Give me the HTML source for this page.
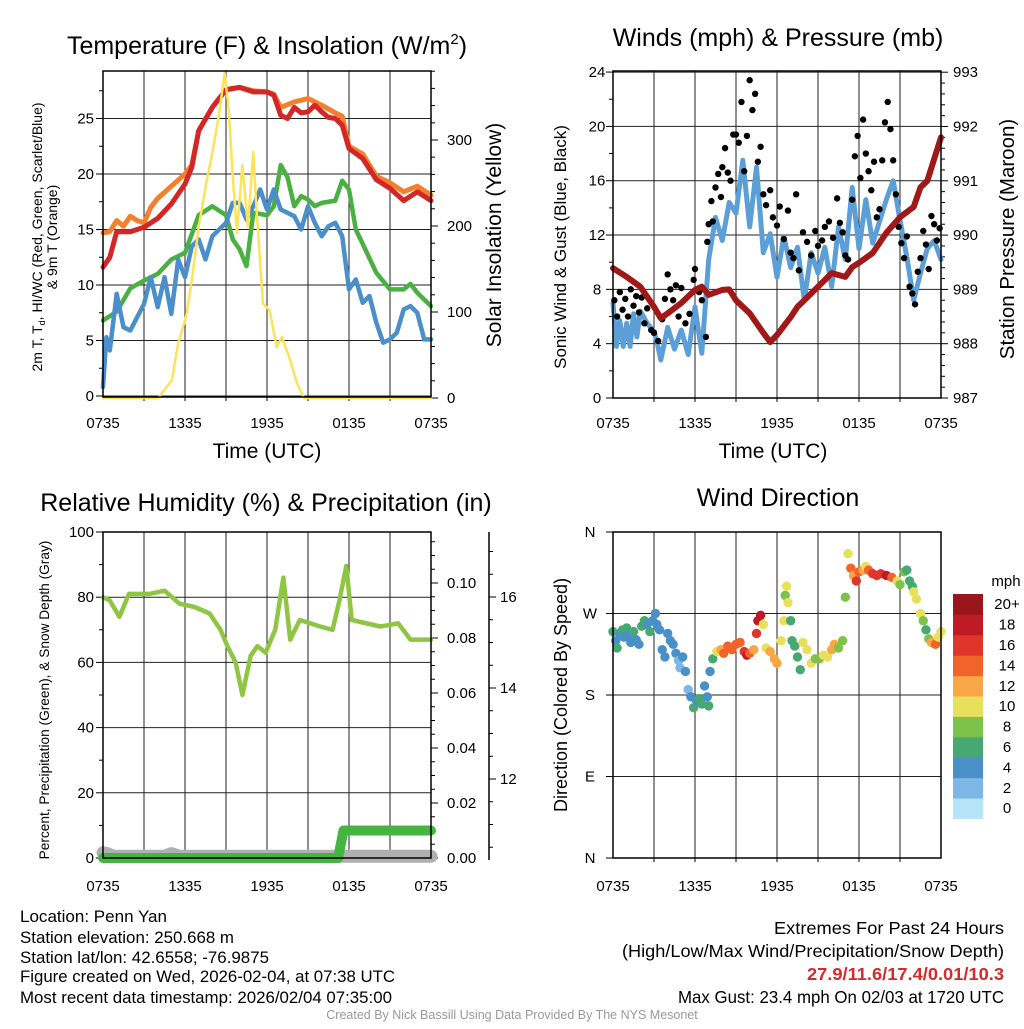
<!DOCTYPE html>
<html><head><meta charset="utf-8"><style>
body{margin:0;background:#fff}
svg text{font-family:"Liberation Sans",Arial,sans-serif;fill:#000}
</style></head><body>
<svg id="chart" width="1024" height="1024" viewBox="0 0 1024 1024" xmlns="http://www.w3.org/2000/svg">
<g id="layer"></g>
<text x="267" y="54" font-size="25" text-anchor="middle">Temperature (F) &amp; Insolation (W/m<tspan font-size="15" dy="-10">2</tspan><tspan dy="10">)</tspan></text>
<text x="778" y="46" font-size="25" text-anchor="middle">Winds (mph) &amp; Pressure (mb)</text>
<text x="266" y="511" font-size="25" text-anchor="middle">Relative Humidity (%) &amp; Precipitation (in)</text>
<text x="778" y="506" font-size="25" text-anchor="middle">Wind Direction</text>
<text x="267" y="458" font-size="21" text-anchor="middle">Time (UTC)</text>
<text x="773" y="458" font-size="21" text-anchor="middle">Time (UTC)</text>
<text transform="translate(42,237) rotate(-90)" font-size="14" text-anchor="middle">2m T, T<tspan font-size="9" dy="3">d</tspan><tspan dy="-3">, HI/WC (Red, Green, Scarlet/Blue)</tspan></text>
<text transform="translate(57,237) rotate(-90)" font-size="14" text-anchor="middle">&amp; 9m T (Orange)</text>
<text transform="translate(501,235) rotate(-90)" font-size="21" text-anchor="middle">Solar Insolation (Yellow)</text>
<text transform="translate(566,247) rotate(-90)" font-size="17" text-anchor="middle">Sonic Wind &amp; Gust (Blue, Black)</text>
<text transform="translate(1014,239) rotate(-90)" font-size="20.5" text-anchor="middle">Station Pressure (Maroon)</text>
<text transform="translate(49,700) rotate(-90)" font-size="13.7" text-anchor="middle">Percent, Precipitation (Green), &amp; Snow Depth (Gray)</text>
<text transform="translate(567,695) rotate(-90)" font-size="18" text-anchor="middle">Direction (Colored By Speed)</text>
<g font-size="16.5">
<text x="20" y="922" textLength="147" lengthAdjust="spacingAndGlyphs">Location: Penn Yan</text>
<text x="20" y="943" textLength="214" lengthAdjust="spacingAndGlyphs">Station elevation: 250.668 m</text>
<text x="20" y="963" textLength="249" lengthAdjust="spacingAndGlyphs">Station lat/lon: 42.6558; -76.9875</text>
<text x="20" y="982" textLength="375" lengthAdjust="spacingAndGlyphs">Figure created on Wed, 2026-02-04, at 07:38 UTC</text>
<text x="20" y="1003" textLength="372" lengthAdjust="spacingAndGlyphs">Most recent data timestamp: 2026/02/04 07:35:00</text>
</g>
<g font-size="17.5" text-anchor="end">
<text x="1004" y="934" textLength="230" lengthAdjust="spacingAndGlyphs">Extremes For Past 24 Hours</text>
<text x="1004" y="957" textLength="382" lengthAdjust="spacingAndGlyphs">(High/Low/Max Wind/Precipitation/Snow Depth)</text>
<text x="1004" y="980" font-weight="bold" style="fill:#d42a2a" textLength="197" lengthAdjust="spacingAndGlyphs">27.9/11.6/17.4/0.01/10.3</text>
<text x="1004" y="1003" textLength="326" lengthAdjust="spacingAndGlyphs">Max Gust: 23.4 mph On 02/03 at 1720 UTC</text>
</g>
<text x="512" y="1019" font-size="12.5" text-anchor="middle" style="fill:#999">Created By Nick Bassill Using Data Provided By The NYS Mesonet</text>
</svg>
<script>
// ---- data ----
const xTickLabels = ["0735","1335","1935","0135","0735"];
const redT = [0,0.5,1,2,3,4,5,6,6.5,7,8,9,10,11,12,12.5,13,13.5,14,14.5,15,15.5,16,16.5,17,17.5,18,19,20,21,22,23,24];
const redV = [11.6,12.5,14.8,14.8,15.2,16,17.3,19.1,20.6,23.9,26,27.6,27.8,27.4,27.4,27.1,25.3,25,26,25.5,25.6,26.2,25.6,25.1,25,24.4,22.3,21.4,19.5,18.7,17.6,18.4,17.6];
const orangeT = [0,0.5,1,1.5,2,2.5,3,3.5,4,5,6,6.5,7,8,9,10,11,12,12.5,13,14,15,16,17,17.5,18,19,20,21,22,23,24];
const orangeV = [14.7,14.8,15.8,15.3,16.2,15.8,15.6,17,17.8,18.9,20,20.8,23.9,26,27.6,27.8,27.5,27.4,27.2,26,26.5,26.8,26.2,25.5,25.2,22.5,21.8,19.8,19.2,18.4,18.9,18.1];
const greenT = [0,1,2,3,4,5,5.5,6,7,8,9,9.5,10,10.5,11,12,12.5,13,13.5,14,14.5,15,15.5,16,17,17.5,18,18.5,19,20,21,22,22.5,23,24];
const greenV = [6.8,7.6,9.7,10.4,11,12.3,12.6,12.9,16.3,17.1,16.3,14.1,13.2,11.7,16.5,16.3,17.1,20.8,19.7,17.1,18,17.7,17.1,17.4,17.6,19.4,18.6,15,13.7,11.1,9.6,9.6,10.1,9.3,8.1];
const blueT = [0,0.25,0.5,1,1.5,2,3,3.5,4,4.5,5,5.5,6,6.5,7,7.5,8,9,9.5,10,10.5,11,11.5,12,12.5,13,14,14.5,15,15.5,16,16.5,17,17.5,18,18.5,19,19.5,20,20.5,21,21.5,22,22.5,23,23.5,24];
const blueV = [0.8,5.3,4.1,9.2,6.2,5.9,8.3,10.7,8,10.7,7.4,12.3,10.7,13.5,14.1,12.3,14.4,15.6,17.4,17.4,15.9,17.1,18.6,16.8,18.6,16.8,16.2,15,17.1,15.6,14.4,15.3,15.6,14.4,9.6,10.5,8.4,9,6.6,4.8,5.1,5.7,7.8,8.1,7.5,5.1,5.1];
const insT = [0,4.05,5.05,5.5,6.07,6.5,7,7.5,8,8.5,8.9,9.2,9.5,9.8,10.2,10.6,11.0,11.2,11.7,12.2,12.7,13.1,13.7,14.2,14.7,24];
const insV = [0,0,21,64,94,137,199,245,285,331,378,335,257,192,271,199,286,227,110,102,59,71,44,17,0,0];
const presT = [0,1,2,3,3.5,4,5,6,6.5,7,8,8.5,9,10,11,11.5,12,13,13.5,14,15,16,17,17.5,18,19,20,21,22,22.5,23,24];
const presV = [989.39,989.23,989.05,988.68,988.47,988.56,988.75,988.99,989.05,988.9,988.99,989.0,988.8,988.56,988.2,988.03,988.16,988.49,988.68,988.8,989.05,989.3,989.23,989.41,989.49,989.67,990.04,990.33,990.52,990.88,991.0,991.8];
const windT = [0,0.25,0.5,0.75,1,1.25,1.5,1.75,2,2.5,3,3.25,3.5,4,4.5,5,5.5,6,6.5,7,7.5,8,8.5,9,9.5,10,10.5,11,11.5,12,12.5,13,13.5,14,14.5,15,15.5,16,16.5,17,17.5,18,18.5,19,19.5,20,20.5,21,21.5,22,22.5,23,23.5,24];
const windV = [7,3.8,5.7,3.8,5.5,3.8,6.2,4.5,6.4,5.5,4.9,4,2.8,5.2,3.6,5,3.2,6.7,3.3,10.2,13.3,11.6,14.4,13.6,17.5,12.6,17,10.7,12.1,8.9,11.9,9.6,11.1,7.2,10.7,9.2,11.1,8.2,12.6,10.2,15.5,11,14.6,11.4,13,14.6,16,13.1,10.4,7.2,9.2,11,11.6,10.2];
const gustT = [0.1,0.3,0.5,0.7,0.9,1.1,1.3,1.5,1.7,1.9,2.1,2.3,2.5,2.8,3.0,3.3,3.6,3.8,4,4.2,4.4,4.6,4.8,5,5.3,5.6,5.9,6,6.3,6.5,6.8,6.9,7.0,7.2,7.3,7.5,7.7,7.9,8.0,8.2,8.4,8.6,8.8,9.0,9.2,9.4,9.6,9.8,10.0,10.2,10.4,10.6,10.8,11,11.2,11.5,11.7,12,12.2,12.5,12.8,13,13.2,13.4,13.6,13.9,14.2,14.5,14.8,15,15.3,15.5,15.8,16.1,16.4,16.6,16.8,17,17.2,17.5,17.7,17.9,18.1,18.3,18.5,18.7,18.9,19.1,19.3,19.5,19.7,19.9,20.1,20.3,20.5,20.7,20.9,21.1,21.3,21.5,21.7,21.9,22.1,22.3,22.5,22.7,22.9,23.1,23.3,23.5,23.7,23.9];
const gustV = [7.2,6,7.8,6.5,7.3,6,8,6.8,7.5,6.3,7.4,5.5,6.6,5,4.8,4.2,5.8,7.3,9.1,8,7.2,8.3,6,8.1,5.5,6.2,8.7,9.5,7.8,7.2,4.5,11.5,12.8,14.5,13,15.5,16.5,14.8,17,18.4,16.6,16,19.4,19.4,18.8,21.8,16.7,19.3,23.4,21.2,22.4,17.4,18.5,15,14.2,15.3,13.3,12.7,14.1,11.7,13.8,10.7,10.3,15,9.4,12.2,11.5,10.5,12.3,11.2,11.6,12.6,13,11.8,14.7,12.9,12.2,10.5,10.2,14.6,17.8,19.3,16.2,20.5,18,16.7,15.3,17.4,13.3,13.9,17.5,20.3,21.8,19.8,17.5,15,12.6,11.4,10.3,11.9,8.2,7.7,6.9,9.3,10.3,12.3,11.3,9.5,13.4,12.8,11.6,12.5];
const rhT = [0,0.5,1.2,1.9,3.4,4.5,5.6,6.7,7.8,8.6,9.1,9.7,10.2,10.8,11.3,11.9,12.6,13.2,13.7,14.4,15.9,16.8,17.3,17.8,18.2,20.3,21.6,22.5,24];
const rhV = [80,79,74,81,81,82,78,77,75,70,65,60,50,62,65,63,70,86,67,73,71,70,79,89.6,73,71,72,67,67];
const precipT = [0,17.2,17.6,24];
const precipV = [0,0,0.01,0.01];
const snowT = [0,0.3,0.8,4.5,5,5.6,24];
const snowV = [10.38,10.36,10.3,10.3,10.36,10.3,10.3];
const dirT = [0.0,0.2,0.3,0.5,0.7,0.8,1.0,1.2,1.3,1.5,1.7,1.9,2.1,2.3,2.5,2.7,2.9,3.1,3.2,3.4,3.6,3.8,4.0,4.2,4.4,4.6,4.8,4.9,5.1,5.3,5.5,5.7,5.9,6.1,6.3,6.5,6.7,6.9,7.0,7.1,7.3,7.6,7.9,8.1,8.4,8.7,9.0,9.3,9.6,9.8,10.0,10.3,10.5,10.6,10.8,11.0,11.2,11.5,11.8,12.0,12.3,12.5,12.6,12.7,12.8,13.0,13.1,13.3,13.5,13.7,13.9,14.2,14.5,14.8,15.1,15.4,15.7,16.0,16.2,16.5,16.8,17.0,17.2,17.4,17.6,17.8,18.0,18.3,18.5,18.7,19.0,19.3,19.6,20.0,20.4,20.8,21.0,21.3,21.5,21.7,21.9,22.0,22.2,22.5,22.7,22.9,23.1,23.3,23.6,23.8,24];
const dirV = [250,240,232,248,252,244,254,246,238,250,241,236,256,262,258,250,262,270,258,252,230,222,248,240,236,226,218,210,222,206,186,178,166,174,176,170,190,178,168,206,220,228,230,226,234,230,236,238,228,224,226,230,248,262,268,258,232,228,220,215,240,262,290,300,282,262,240,234,222,208,238,230,215,220,220,224,222,230,236,232,240,288,336,320,312,306,316,318,322,318,314,312,314,312,310,306,302,316,318,306,300,294,286,270,262,252,242,238,236,244,250];
const dirS = [6,4,6,4,6,4,6,4,4,6,4,4,6,6,4,6,4,4,4,4,4,4,4,4,4,4,2,2,4,4,2,4,6,4,6,6,4,4,6,4,6,10,12,14,14,14,14,14,16,18,14,12,16,18,18,10,10,12,12,12,10,10,8,10,10,6,6,6,6,6,10,10,10,8,8,10,10,12,12,8,8,8,10,14,12,16,14,12,10,14,16,16,16,18,14,10,8,8,6,6,6,10,10,10,8,6,8,12,14,10,10];
const speedLabels = ["0","2","4","6","8","10","12","14","16","18","20+"];
const speedColors = ["#b5e3f8","#7cb7e5","#4a90c8","#48a872","#7dc24b","#e8e05a","#f8a646","#f2632a","#e0352a","#c01b25","#99161c"];

// ---- helpers ----
const NS="http://www.w3.org/2000/svg";
const layer=document.getElementById('layer');
function mk(tag,attrs,parent){const e=document.createElementNS(NS,tag);for(const k in attrs)e.setAttribute(k,attrs[k]);(parent||layer).appendChild(e);return e;}
function txt(x,y,s,size,anchor,parent){const t=mk('text',{x:x,y:y,'font-size':size,'text-anchor':anchor||'middle'},parent);t.textContent=s;return t;}
function pathFrom(ts,vs,xf,yf){return ts.map((t,i)=>(i?'L':'M')+xf(t).toFixed(1)+','+yf(vs[i]).toFixed(1)).join(' ');}
function line(g,ts,vs,xf,yf,color,w,name){const p=mk('path',{d:pathFrom(ts,vs,xf,yf),fill:'none',stroke:color,'stroke-width':w,'stroke-linejoin':'round','stroke-linecap':'round'},g);

return p;}

function frame(L,R,T,B,name,xLabY){
  const g=mk('g',{});
  
  
  for(let i=1;i<8;i++){const x=L+(R-L)*i/8;mk('line',{x1:x,x2:x,y1:T,y2:B,stroke:'#222','stroke-width':1},g);mk('line',{x1:x,x2:x,y1:B,y2:B+4,stroke:'#000'},g);}
  xTickLabels.forEach((s,i)=>{const l=txt(L+(R-L)*i/4,xLabY,s,15,'middle',g);
    
    });
  return g;
}
function border(g,L,R,T,B){mk('rect',{x:L,y:T,width:R-L,height:B-T,fill:'none',stroke:'#000','stroke-width':1.5},g);}

// ---- panel 1 ----
(function(){
 const L=103,R=431,T=71,B=397;
 const xs=t=>L+t*(R-L)/24, yT=v=>396-v*11.1, yI=w=>398-w*0.86;
 const g=frame(L,R,T,B,'temperature-panel',428);
 for(let v=0;v<=27.5;v+=2.5){const y=yT(v);const maj=v%5===0;
   if(maj){mk('line',{x1:L,x2:R,y1:y,y2:y,stroke:'#222'},g);const l=txt(L-9,y+5,String(v),15,'end',g);
   
   }
   mk('line',{x1:L-(maj?7:4),x2:L,y1:y,y2:y,stroke:'#000'},g);}
 for(let w=0;w<=380;w+=20){const y=yI(w);const maj=w%100===0;mk('line',{x1:R,x2:R+(maj?7:4),y1:y,y2:y,stroke:'#000'},g);
   if(maj){const l=txt(R+16,y+5,String(w),15,'start',g);
   
   }}
 line(g,orangeT,orangeV,xs,yT,'#f47f2c',5,'9m-temperature-line');
 line(g,redT,redV,xs,yT,'#d42626',5,'2m-temperature-line');
 line(g,greenT,greenV,xs,yT,'#49b041',4.5,'dewpoint-line');
 line(g,blueT,blueV,xs,yT,'#4a8fc9',4.5,'wind-chill-line');
 line(g,insT,insV,xs,yI,'#fde35a',2.5,'insolation-line');
 border(g,L,R,T,B);
})();

// ---- panel 2 ----
(function(){
 const L=613,R=941,T=71,B=398;
 const xs=t=>L+t*(R-L)/24, yW=v=>398-v*13.58, yP=p=>398-(p-987)*54.3;
 const g=frame(L,R,T,B,'winds-panel',428);
 for(let v=0;v<=24;v+=2){const y=yW(v);const maj=v%4===0;
   if(maj){mk('line',{x1:L,x2:R,y1:y,y2:y,stroke:'#222'},g);const l=txt(L-16,y+5,String(v),15,'middle',g);
   
   }
   mk('line',{x1:L-(maj?7:4),x2:L,y1:y,y2:y,stroke:'#000'},g);}
 for(let p=987;p<=993.001;p+=0.2){const y=yP(p);const maj=Math.abs(p-Math.round(p))<0.01;mk('line',{x1:R,x2:R+(maj?7:4),y1:y,y2:y,stroke:'#000'},g);
   if(maj){const l=txt(R+12,y+5,String(Math.round(p)),15,'start',g);
   
   }}
 line(g,windT,windV,xs,yW,'#5b9fd6',5,'sonic-wind-line');
 gustT.forEach((t,i)=>{const c=mk('circle',{cx:xs(t),cy:yW(gustV[i]),r:3.2,fill:'#000'},g);
   
   });
 line(g,presT,presV,xs,yP,'#a01818',6,'pressure-line');
 border(g,L,R,T,B);
})();

// ---- panel 3 ----
(function(){
 const L=103,R=431,T=532,B=858;
 const xs=t=>L+t*(R-L)/24, yR=v=>858-v*3.26, yPr=p=>858-p*2750, yS=s=>779-(s-12)*45.5;
 const g=frame(L,R,T,B,'humidity-panel',891);
 for(let v=0;v<=100;v+=10){const y=yR(v);const maj=v%20===0;
   if(maj){mk('line',{x1:L,x2:R,y1:y,y2:y,stroke:'#222'},g);const l=txt(L-9,y+5,String(v),15,'end',g);
   
   }
   mk('line',{x1:L-(maj?7:4),x2:L,y1:y,y2:y,stroke:'#000'},g);}
 for(let i=0;i<=23;i++){const p=i*0.005;const y=yPr(p);const maj=i%4===0;mk('line',{x1:R,x2:R+(maj?7:4),y1:y,y2:y,stroke:'#000'},g);
   if(maj){const l=txt(R+16,y+5,p.toFixed(2),15,'start',g);
   
   }}
 mk('line',{x1:489,x2:489,y1:532,y2:860,stroke:'#000','stroke-width':1.5},g);
 for(let s=10;s<=17.5;s+=0.5){const y=yS(s);if(y<532||y>860)continue;const maj=s%2===0;mk('line',{x1:489,x2:489+(maj?7:4),y1:y,y2:y,stroke:'#000'},g);
   if(maj&&s>=12){const l=txt(500,y+5,String(s),15,'start',g);
   
   }}
 line(g,snowT,snowV,xs,yS,'#b0b0b0',13,'snow-depth-line');
 line(g,precipT,precipV,xs,yPr,'#46b441',10,'precipitation-line');
 line(g,rhT,rhV,xs,yR,'#8ec643',4.5,'relative-humidity-line');
 border(g,L,R,T,B);
})();

// ---- panel 4 ----
(function(){
 const L=613,R=941,T=532,B=858;
 const xs=t=>L+t*(R-L)/24, yD=d=>858-d*(326/360);
 const g=frame(L,R,T,B,'wind-direction-panel',891);
 const dirLabels=["N","E","S","W","N"];
 dirLabels.forEach((s,i)=>{const y=yD(i*90);if(i>0&&i<4)mk('line',{x1:L,x2:R,y1:y,y2:y,stroke:'#222'},g);
   mk('line',{x1:L-7,x2:L,y1:y,y2:y,stroke:'#000'},g);
   const l=txt(L-23,y+5,s,15,'middle',g);
   
   });
 dirT.forEach((t,i)=>{const k=Math.max(0,Math.min(10,Math.floor(dirS[i]/2)));
   const c=mk('circle',{cx:xs(t),cy:yD(dirV[i]),r:4.7,fill:speedColors[k]},g);
   
   });
 border(g,L,R,T,B);
 const cb=mk('g',{});
 
 
 const top=594,h=20.4;
 txt(1006,586,'mph',15,'middle',cb);
 speedColors.forEach((c,i)=>{const y=top+(10-i)*h;mk('rect',{x:953,y:y,width:30,height:h+0.5,fill:c},cb);
   const l=txt(1007,y+h/2+5,speedLabels[i],15,'middle',cb);
   
   });
})();
</script>
</body></html>
